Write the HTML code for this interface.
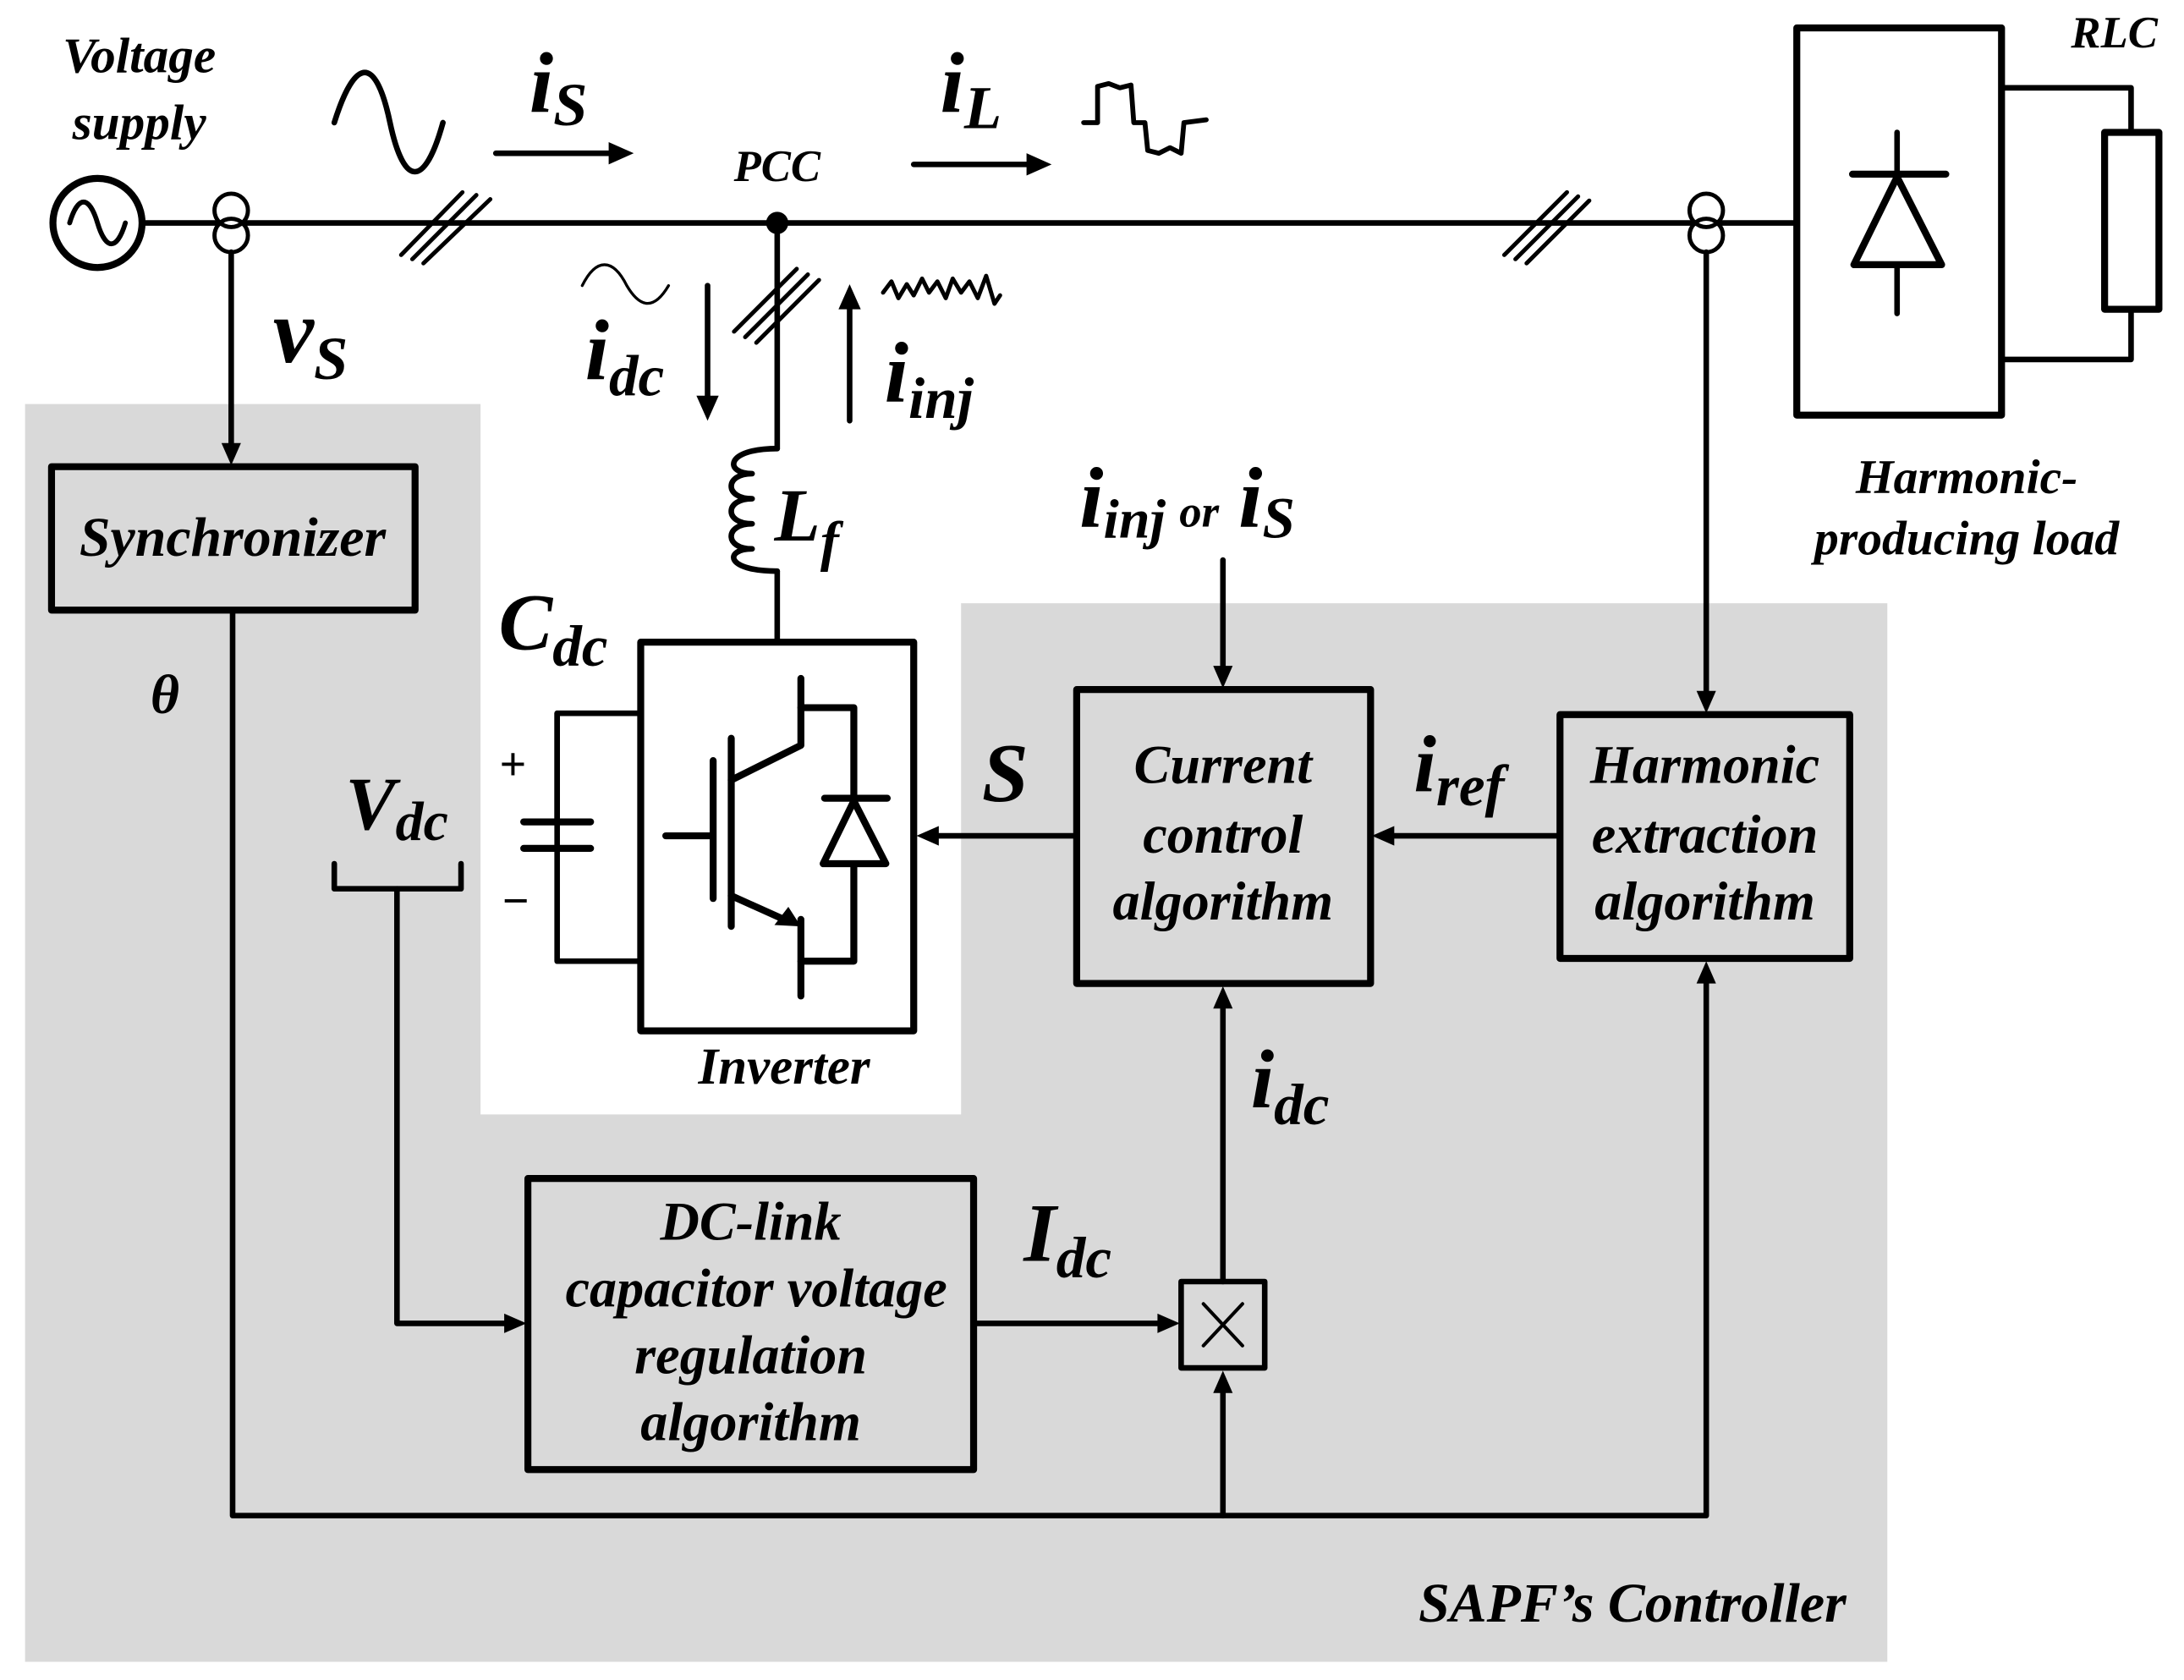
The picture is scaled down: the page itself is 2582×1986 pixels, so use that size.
<!DOCTYPE html>
<html><head><meta charset="utf-8"><style>
html,body{margin:0;padding:0;background:#fff}
svg{display:block}
text{font-family:"Liberation Serif",serif;font-weight:bold;font-style:italic;fill:#000}
</style></head><body>
<svg width="2582" height="1986" viewBox="0 0 1568 1206" xmlns="http://www.w3.org/2000/svg">
<polygon points="18,290 345,290 345,800 690,800 690,433 1355,433 1355,1193 18,1193" fill="#d9d9d9"/>
<g stroke="#000" stroke-width="4" fill="none" stroke-linejoin="round" stroke-linecap="round">
<line x1="102" y1="160" x2="1290" y2="160"/>
<circle cx="70" cy="160" r="32" stroke-width="5" fill="#fff"/>
<path d="M50,160 C56,140 64,140 70,160 C76,180 84,180 90,160" stroke-width="3.5"/>
<circle cx="166" cy="151" r="12" fill="#fff" stroke-width="3"/>
<circle cx="166" cy="169" r="12" fill="none" stroke-width="3"/>
<circle cx="1225" cy="151" r="12" fill="#fff" stroke-width="3"/>
<circle cx="1225" cy="169" r="12" fill="none" stroke-width="3"/>
<g stroke-width="3">
<line x1="288" y1="183" x2="332" y2="138"/><line x1="296" y1="186" x2="342" y2="140"/><line x1="304" y1="189" x2="352" y2="143"/>
<line x1="527" y1="238" x2="572" y2="193"/><line x1="535" y1="242" x2="580" y2="197"/><line x1="543" y1="246" x2="588" y2="201"/>
<line x1="1080" y1="183" x2="1125" y2="138"/><line x1="1088" y1="186" x2="1133" y2="141"/><line x1="1096" y1="189" x2="1141" y2="144"/>
</g>
<line x1="166" y1="181" x2="166" y2="322"/>
<rect x="37" y="335" width="261" height="103" stroke-width="5"/>
<polyline points="167,438 167,1088 1225,1088 1225,702"/>
<line x1="878" y1="1088" x2="878" y2="996"/>
<line x1="558" y1="160" x2="558" y2="322"/>
<path d="M558,322 C520,322 520,340 540,340 C520,340 520,358 540,358 C520,358 520,376 540,376 C520,376 520,394 540,394 C520,394 520,410 558,410" stroke-width="4"/>
<line x1="558" y1="410" x2="558" y2="460"/>
<rect x="460" y="461" width="196" height="279" stroke-width="5" fill="#fff"/>
<polyline points="459,512 400,512 400,690 459,690"/>
<line x1="400" y1="512" x2="400" y2="590"/>
<line x1="376" y1="590" x2="424" y2="590" stroke-width="5"/>
<line x1="376" y1="609" x2="424" y2="609" stroke-width="5"/>
<line x1="478" y1="600" x2="510" y2="600" stroke-width="5"/>
<line x1="512" y1="546" x2="512" y2="645" stroke-width="5"/>
<line x1="525" y1="530" x2="525" y2="665" stroke-width="5"/>
<polyline points="525,560 575,535 575,487" stroke-width="5"/>
<polyline points="575,508 613,508 613,573" stroke-width="5"/>
<line x1="592" y1="573" x2="637" y2="573" stroke-width="5"/>
<polygon points="613,575 591,620 636,620" stroke-width="5" fill="#fff"/>
<polyline points="613,622 613,690 575,690" stroke-width="5"/>
<line x1="525" y1="643" x2="565" y2="661" stroke-width="5"/>
<polyline points="575,660 575,715" stroke-width="5"/>
<polyline points="240,620 240,638 331,638 331,620" stroke-width="4"/>
<polyline points="285,638 285,950 368,950"/>
<rect x="379" y="846" width="320" height="209" stroke-width="5"/>
<line x1="699" y1="950" x2="836" y2="950"/>
<rect x="848" y="920" width="60" height="62" stroke-width="4"/>
<line x1="864" y1="936" x2="892" y2="966" stroke-width="2.5"/>
<line x1="892" y1="936" x2="864" y2="966" stroke-width="2.5"/>
<line x1="878" y1="920" x2="878" y2="720"/>
<rect x="773" y="495" width="211" height="211" stroke-width="5"/>
<line x1="878" y1="402" x2="878" y2="482"/>
<line x1="773" y1="600" x2="672" y2="600"/>
<rect x="1120" y="513" width="208" height="175" stroke-width="5"/>
<line x1="1120" y1="600" x2="998" y2="600"/>
<line x1="1225" y1="181" x2="1225" y2="500"/>
<rect x="1290" y="20" width="147" height="278" stroke-width="5"/>
<line x1="1362" y1="95" x2="1362" y2="125"/>
<line x1="1330" y1="125" x2="1397" y2="125" stroke-width="5"/>
<polygon points="1362,127 1331,190 1394,190" stroke-width="5"/>
<line x1="1362" y1="190" x2="1362" y2="225"/>
<polyline points="1437,63 1530,63 1530,95"/>
<rect x="1511" y="95" width="39" height="127" stroke-width="5"/>
<polyline points="1530,222 1530,258 1437,258"/>
<line x1="356" y1="110" x2="440" y2="110"/>
<line x1="656" y1="118" x2="740" y2="118"/>
<line x1="508" y1="205" x2="508" y2="288"/>
<line x1="610" y1="302" x2="610" y2="220"/>
<path d="M240,88 C255,40 270,40 280,88 C290,135 305,135 318,88" stroke-width="4"/>
<path d="M778,88 L788,88 788,62 796,60 804,63 812,61 814,88 822,88 824,108 832,110 840,106 848,110 850,88 866,86" stroke-width="3.5"/>
<path d="M418,205 C428,185 440,185 450,205 C460,222 470,222 480,205" stroke-width="2"/>
<path d="M634,210 l6,-8 5,12 6,-10 5,8 6,-12 5,10 6,-8 6,12 5,-14 6,10 6,-8 6,12 6,-16 6,20 4,-6" stroke-width="3"/>
</g>
<g fill="#000">
<polygon points="166,334 159,318 173,318"/>
<polygon points="1225,512 1218,496 1232,496"/>
<polygon points="1225,690 1218,706 1232,706"/>
<polygon points="878,984 871,1000 885,1000"/>
<polygon points="878,708 871,724 885,724"/>
<polygon points="878,494 871,478 885,478"/>
<polygon points="378,950 362,943 362,957"/>
<polygon points="847,950 831,943 831,957"/>
<polygon points="658,600 674,593 674,607"/>
<polygon points="985,600 1001,593 1001,607"/>
<polygon points="455,110 437,102 437,118"/>
<polygon points="755,118 737,110 737,126"/>
<polygon points="508,302 500,284 516,284"/>
<polygon points="610,204 602,222 618,222"/>
<polygon points="575,665 556,664 566,651"/>
<circle cx="558" cy="160" r="8"/>
</g>
<g text-anchor="middle">
<text x="100" y="52" font-size="36">Voltage</text>
<text x="100" y="100" font-size="36">supply</text>
<text x="558" y="130" font-size="32">PCC</text>
<text x="1518" y="34" font-size="32">RLC</text>
<text x="1412" y="354" font-size="35">Harmonic-</text>
<text x="1412" y="398" font-size="35">producing load</text>
<text x="167" y="399" font-size="40">Synchronizer</text>
<text x="563" y="778" font-size="37">Inverter</text>
<text x="878" y="562" font-size="39">Current</text>
<text x="878" y="612" font-size="39">control</text>
<text x="878" y="660" font-size="39">algorithm</text>
<text x="1224" y="562" font-size="39">Harmonic</text>
<text x="1224" y="612" font-size="39">extraction</text>
<text x="1224" y="660" font-size="39">algorithm</text>
<text x="539" y="890" font-size="39">DC-link</text>
<text x="543" y="938" font-size="39">capacitor voltage</text>
<text x="539" y="986" font-size="39">regulation</text>
<text x="539" y="1034" font-size="39">algorithm</text>
<text x="1172" y="1164" font-size="40">SAPF’s Controller</text>
<text x="368" y="560" font-size="34" font-style="normal" font-weight="normal">+</text>
<text x="370" y="658" font-size="34" font-style="normal" font-weight="normal">−</text>
</g>
<g>
<text x="108" y="512" font-size="40" font-weight="normal">θ</text>
<text x="380" y="80" font-size="62">i<tspan font-size="44" dy="10">S</tspan></text>
<text x="675" y="80" font-size="62">i<tspan font-size="44" dy="12">L</tspan></text>
<text x="196" y="260" font-size="66">v<tspan font-size="44" dy="12">S</tspan></text>
<text x="420" y="272" font-size="62">i<tspan font-size="42" dy="12">dc</tspan></text>
<text x="635" y="288" font-size="62">i<tspan font-size="42" dy="12">inj</tspan></text>
<text x="556" y="388" font-size="54">L<tspan font-size="40" dy="14">f</tspan></text>
<text x="358" y="466" font-size="58">C<tspan font-size="42" dy="12">dc</tspan></text>
<text x="248" y="595" font-size="54">V<tspan font-size="40" dy="8">dc</tspan></text>
<text x="775" y="378" font-size="62">i<tspan font-size="40" dy="8">inj</tspan><tspan font-size="32" dy="-8" dx="10">or</tspan><tspan font-size="62" dx="14">i</tspan><tspan font-size="42" dy="8">S</tspan></text>
<text x="705" y="575" font-size="60">S</text>
<text x="1015" y="568" font-size="58">i<tspan font-size="42" dy="10">ref</tspan></text>
<text x="898" y="795" font-size="60">i<tspan font-size="42" dy="12">dc</tspan></text>
<text x="735" y="905" font-size="60">I<tspan font-size="42" dy="12">dc</tspan></text>
</g>
</svg>
</body></html>
